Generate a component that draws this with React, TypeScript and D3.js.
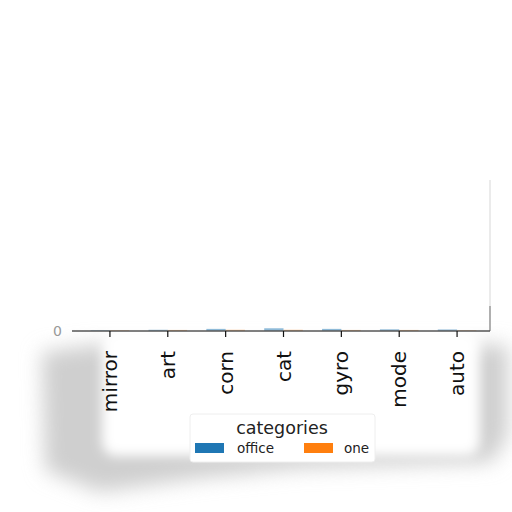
import React, { useEffect, useRef } from 'react';
import * as d3 from 'd3';

// Chart data
const categories = ['mirror', 'art', 'corn', 'cat', 'gyro', 'mode', 'auto'];
const seriesNames = ['office', 'one'];
const officeValues = [0.4, 0.8, 1.4, 1.8, 1.4, 1.1, 1.0];
const oneValues = [0.4, 0.7, 0.8, 0.8, 0.7, 0.7, 0.4];
const seriesColors = ['#1f77b4', '#ff7f0e'];
const yTicks = [0];

const W = 512;
const H = 512;

const App: React.FC = () => {
  const svgRef = useRef<SVGSVGElement>(null);

  useEffect(() => {
    if (!svgRef.current) return;
    const svg = d3.select(svgRef.current);
    svg.selectAll('*').remove();

    const plot = { left: 72, right: 490, top: 180, bottom: 331 };

    const defs = svg.append('defs');
    const addBlur = (id: string, sd: number) =>
      defs
        .append('filter')
        .attr('id', id)
        .attr('x', '-30%')
        .attr('y', '-30%')
        .attr('width', '160%')
        .attr('height', '160%')
        .append('feGaussianBlur')
        .attr('stdDeviation', sd);
    addBlur('blurBig', 10);
    addBlur('blurSmall', 6);

    svg.append('rect').attr('width', W).attr('height', H).attr('fill', '#fff');

    // soft grey smudge around the lower part
    svg
      .append('path')
      .attr('d', 'M42,352 L95,345 L480,345 L508,345 L508,435 L492,462 L300,468 L200,478 L100,492 L45,470 Z')
      .attr('fill', '#cfcfcf')
      .attr('filter', 'url(#blurBig)');
    svg
      .append('rect')
      .attr('x', 102)
      .attr('y', 330)
      .attr('width', 378)
      .attr('height', 126)
      .attr('rx', 14)
      .attr('fill', '#fff')
      .attr('filter', 'url(#blurSmall)');

    const x0 = d3
      .scaleBand<string>()
      .domain(categories)
      .range([plot.left + 9, plot.right - 4])
      .padding(0);
    const x1 = d3
      .scaleBand<string>()
      .domain(seriesNames)
      .range([0, x0.bandwidth()])
      .paddingInner(0)
      .paddingOuter(0.5);
    const y = d3.scaleLinear().domain([0, 100]).range([plot.bottom, plot.top]);

    // right spine (faint)
    svg
      .append('line')
      .attr('x1', plot.right)
      .attr('x2', plot.right)
      .attr('y1', plot.top)
      .attr('y2', plot.bottom)
      .attr('stroke', '#e4e4e4')
      .attr('stroke-width', 1.5);
    svg
      .append('line')
      .attr('x1', plot.right)
      .attr('x2', plot.right)
      .attr('y1', plot.bottom - 25)
      .attr('y2', plot.bottom)
      .attr('stroke', '#888')
      .attr('stroke-width', 1.2);

    // bars
    const groups = categories.map((c, i) => ({ c, vals: [officeValues[i], oneValues[i]] }));
    const g = svg
      .selectAll('.grp')
      .data(groups)
      .enter()
      .append('g')
      .attr('transform', (d) => `translate(${x0(d.c)},0)`);
    g.selectAll('rect')
      .data((d) => d.vals.map((v, j) => ({ v, s: seriesNames[j], j })))
      .enter()
      .append('rect')
      .attr('x', (d) => x1(d.s)!)
      .attr('width', x1.bandwidth())
      .attr('y', (d) => y(d.v))
      .attr('height', (d) => y(0) - y(d.v))
      .attr('fill', (d) => seriesColors[d.j])
      .attr('opacity', 0.5);

    // x axis
    const xAxis = svg
      .append('g')
      .attr('transform', `translate(0,${plot.bottom})`)
      .call(d3.axisBottom(x0).tickSize(6).tickSizeOuter(0));
    xAxis.select('.domain').attr('stroke', '#555').attr('stroke-width', 1.5).attr('d', `M${plot.left},0H${plot.right}`);
    xAxis.selectAll('.tick line').attr('stroke', '#111').attr('stroke-width', 1.2);
    xAxis
      .selectAll('.tick text')
      .attr('font-family', 'DejaVu Sans')
      .attr('font-size', 20)
      .attr('fill', '#111')
      .attr('transform', 'rotate(-90)')
      .attr('text-anchor', 'end')
      .attr('x', -20)
      .attr('y', 0)
      .attr('dy', '0.35em');

    // y tick label
    svg
      .selectAll('.ytick')
      .data(yTicks)
      .enter()
      .append('text')
      .attr('x', 62)
      .attr('y', (d) => y(d))
      .attr('dy', '0.35em')
      .attr('text-anchor', 'end')
      .attr('font-family', 'DejaVu Sans')
      .attr('font-size', 14)
      .attr('fill', '#999')
      .text((d) => String(d));

    // legend
    const lg = svg.append('g').attr('transform', 'translate(190,414)');
    lg.append('rect')
      .attr('width', 185)
      .attr('height', 48)
      .attr('rx', 3)
      .attr('fill', '#fff')
      .attr('stroke', '#eee');
    lg.append('text')
      .attr('x', 92)
      .attr('y', 20)
      .attr('text-anchor', 'middle')
      .attr('font-family', 'DejaVu Sans')
      .attr('font-size', 17.5)
      .attr('fill', '#222')
      .text('categories');
    const items = lg
      .selectAll('.item')
      .data(seriesNames)
      .enter()
      .append('g')
      .attr('transform', (d, i) => `translate(${5 + i * 109},29)`);
    items
      .append('rect')
      .attr('width', 29)
      .attr('height', 10)
      .attr('fill', (d, i) => seriesColors[i]);
    items
      .append('text')
      .attr('x', (d, i) => (i === 0 ? 42 : 40))
      .attr('y', 10)
      .attr('font-family', 'DejaVu Sans')
      .attr('font-size', 13.5)
      .attr('fill', '#222')
      .text((d) => d);
  }, []);

  return (
    <div style={{ position: 'absolute', left: 0, top: 0 }}>
      <svg ref={svgRef} width={W} height={H} />
    </div>
  );
};

export default App;
